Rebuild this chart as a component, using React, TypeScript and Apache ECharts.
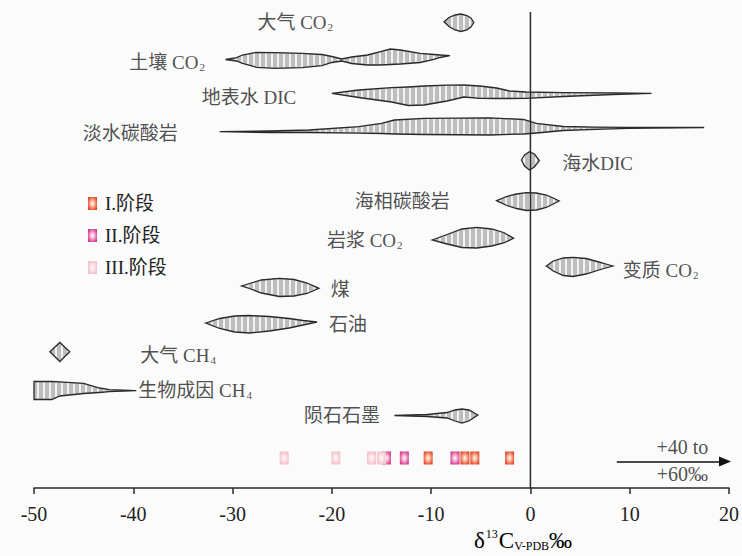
import React, { useEffect, useRef } from "react";
import * as echarts from "echarts";

const FONT = '"Liberation Serif", "Noto Sans CJK SC", serif';

// Each shape: [δ13C (‰), upper edge (row units), lower edge (row units)]
const atmCO2 = [[-8.7, 21.7, 21.7], [-8.2, 17.5, 26.5], [-7.6, 15, 30], [-7.0, 14, 31.5], [-6.4, 15.5, 30], [-6.0, 18, 27], [-5.7, 22.5, 22.5]];
const soilCO2 = [[-30.7, 59.5, 59.5], [-29.6, 57.7, 61], [-29.0, 55, 63.3], [-27.6, 52.3, 67.3], [-25.7, 52.7, 68.3], [-23.0, 53.3, 67.7], [-21.0, 54.5, 65.7], [-20.0, 56.5, 62.5], [-19.0, 59, 61], [-18.0, 57, 63.5], [-16.4, 55, 65], [-15.1, 51.7, 65], [-14.1, 49, 64.5], [-13.1, 50, 64], [-11.1, 53.3, 62.5], [-9.7, 54.5, 59.3], [-9.1, 55, 57.5], [-8.1, 55.7, 55.7]];
const surfDIC = [[-20.0, 93.3, 93.3], [-17.3, 90, 97.5], [-14.0, 87.7, 102], [-12.3, 87, 105.5], [-10.7, 86, 105], [-8.4, 85.2, 101], [-6.7, 85, 97], [-5.1, 86, 98.3], [-3.4, 88, 98.5], [-2.1, 91, 98.5], [-0.4, 92, 98.3], [3.3, 92.7, 96.5], [8.3, 92.8, 94.5], [12.2, 93.3, 93.3]];
const freshCarb = [[-31.3, 131.7, 131.7], [-26.3, 131, 132.5], [-22.3, 130, 132.5], [-17.3, 126.7, 133.2], [-15.0, 123.3, 133.5], [-13.7, 120, 134], [-10.7, 118.3, 134.5], [-4.1, 117.8, 135], [-0.7, 119.5, 134], [0.6, 123.3, 133], [3.3, 126.5, 130.5], [6.6, 127.2, 129.3], [9.9, 127.3, 128.3], [17.5, 127.5, 127.5]];
const seaDIC = [[-0.9, 160, 160], [-0.6, 155, 166], [-0.1, 151.7, 170], [0.4, 154, 167], [0.9, 160.5, 160.5]];
const marineCarb = [[-3.4, 200.7, 200.7], [-2.4, 196.5, 205.5], [-1.4, 194, 208.5], [-0.4, 192.7, 210.5], [0.6, 193, 210], [1.6, 195, 207.5], [2.3, 198, 204], [2.9, 201, 201]];
const magmaCO2 = [[-9.9, 240, 240], [-8.4, 234.5, 244], [-6.9, 229, 247.5], [-5.4, 227.3, 248], [-3.9, 229, 246], [-2.7, 232.5, 243], [-1.7, 238.3, 238.3]];
const metaCO2 = [[1.6, 266, 266], [2.3, 261, 271], [3.3, 258, 275.5], [4.3, 257.3, 276.5], [5.6, 258.5, 274], [6.9, 262, 270], [7.6, 264, 268], [8.3, 266, 266]];
const coal = [[-29.1, 286, 286], [-28.3, 283.5, 288.5], [-27.1, 280, 293], [-25.3, 278.3, 296.5], [-23.8, 279.5, 296], [-22.5, 283, 293.5], [-21.3, 288.3, 288.3]];
const oil = [[-32.7, 323, 323], [-31.3, 318.5, 328.5], [-29.8, 316, 332], [-28.3, 315.5, 333], [-26.3, 316.5, 331], [-24.3, 318.5, 328], [-22.9, 320.5, 325], [-21.5, 322, 322]];
const atmCH4 = [[-48.4, 351.7, 351.7], [-47.4, 342.5, 361.5], [-46.4, 351.7, 351.7]];
const bioCH4 = [[-50.0, 381.5, 399.5], [-48.2, 381.5, 399.5], [-47.4, 381.8, 396], [-45.0, 383.3, 393.5], [-43.4, 388, 392.5], [-42.4, 389.7, 391.7], [-39.7, 390.7, 390.7]];
const graphite = [[-13.7, 415.5, 415.5], [-10.4, 414.5, 416.5], [-8.4, 412.5, 418], [-7.6, 410, 421], [-6.9, 409, 423], [-6.2, 410, 421], [-5.3, 415, 415]];

const shapes = [atmCO2, soilCO2, surfDIC, freshCarb, seaDIC, marineCarb, magmaCO2, metaCO2, coal, oil, atmCH4, bioCH4, graphite];

// Labels: [text, δ13C of left edge, row]
const shapeLabels: [string, number, number][] = [
  ["{a|大气 CO}{s|2}", -27.5, 22],
  ["{a|土壤 CO}{s|2}", -40.4, 62],
  ["{a|地表水 DIC}", -33.1, 97],
  ["{a|淡水碳酸岩}", -45.1, 133],
  ["{a|海水DIC}", 3.2, 163],
  ["{a|海相碳酸岩}", -17.7, 201],
  ["{a|岩浆 CO}{s|2}", -20.5, 240],
  ["{a|变质 CO}{s|2}", 9.3, 270],
  ["{a|煤}", -20.1, 289],
  ["{a|石油}", -20.3, 324],
  ["{a|大气 CH}{s|4}", -39.3, 355],
  ["{a|生物成因 CH}{s|4}", -39.5, 390],
  ["{a|陨石石墨}", -22.8, 415],
];

// Stage sample values (δ13C)
const stageRow = 458;
const stageI = [-10.3, -6.6, -5.6, -2.1];
const stageII = [-14.5, -12.7, -7.6];
const stageIII = [-24.8, -19.6, -16.0, -15.0];

const arrowFrom = 8.7;
const arrowTo = 19.6;
const arrowRow = 461.5;
const arrowTexts: [string, number, number][] = [
  ["+40 to", 15.3, 447],
  ["+60‰", 15.3, 474],
];
const zeroLine = [[0, 12], [0, 488]];

const STRIPE = 6;

function interp(pts: number[][], x: number) {
  for (let i = 0; i < pts.length - 1; i++) {
    const a = pts[i], b = pts[i + 1];
    if (x >= a[0] && x <= b[0]) {
      if (b[0] === a[0]) return a[1];
      const t = (x - a[0]) / (b[0] - a[0]);
      return a[1] + t * (b[1] - a[1]);
    }
  }
  return pts[pts.length - 1][1];
}

function makeRender(pts: number[][]) {
  return (params: any, api: any) => {
    if (params.dataIndex !== 0) return null;
    const top = pts.map((p) => api.coord([p[0], p[1]]));
    const bot = pts.map((p) => api.coord([p[0], p[2]]));
    const poly = top.concat(bot.slice().reverse());
    const children: any[] = [
      { type: "polygon", shape: { points: poly }, style: { fill: "#bdbdbd", stroke: "none" } },
    ];
    const x0 = top[0][0], x1 = top[top.length - 1][0];
    for (let x = Math.ceil(x0 / STRIPE) * STRIPE + 2; x < x1; x += STRIPE) {
      const yt = interp(top, x), yb = interp(bot, x);
      if (yb - yt > 2.5) {
        children.push({
          type: "line",
          shape: { x1: x, y1: yt + 0.8, x2: x, y2: yb - 0.8 },
          style: { stroke: "#ffffff", lineWidth: 1.6 },
        });
      }
    }
    children.push({
      type: "polygon",
      shape: { points: poly },
      style: { fill: "none", stroke: "#2a2a2a", lineWidth: 1.3 },
    });
    return { type: "group", children };
  };
}

function stageColor(dark: string, light: string) {
  return {
    type: "radial",
    x: 0.5,
    y: 0.5,
    r: 0.75,
    colorStops: [
      { offset: 0, color: "#ffffff" },
      { offset: 0.3, color: light },
      { offset: 0.75, color: dark },
      { offset: 1, color: dark },
    ],
  };
}

export default function App() {
  const ref = useRef<HTMLDivElement>(null);
  useEffect(() => {
    if (!ref.current) return;
    const chart = echarts.init(ref.current, undefined, { renderer: "svg" });
    const shapeSeries = shapes.map((pts) => ({
      type: "custom",
      renderItem: makeRender(pts),
      data: pts,
      encode: { x: 0, y: 1 },
      silent: true,
      clip: false,
      z: 3,
    }));
    const stageSeries = (name: string, vals: number[], dark: string, light: string, z: number) => ({
      name,
      type: "scatter",
      symbol: "rect",
      symbolSize: [9, 13],
      data: vals.map((v) => [v, stageRow]),
      itemStyle: { color: stageColor(dark, light), opacity: 1 },
      silent: true,
      z,
    });
    const option: any = {
      animation: false,
      backgroundColor: "#fbfbfb",
      grid: { left: 34, right: 6, top: 0, bottom: 68 },
      xAxis: {
        type: "value",
        position: "bottom",
        min: -50,
        max: 20,
        interval: 10,
        axisLine: { show: true, onZero: false, lineStyle: { color: "#2a2a2a", width: 1.5 } },
        axisTick: { show: true, length: 6, lineStyle: { color: "#2a2a2a", width: 1.5 } },
        axisLabel: { fontFamily: FONT, fontSize: 20, color: "#222", margin: 16 },
        splitLine: { show: false },
      },
      yAxis: { type: "value", min: 0, max: 488, inverse: true, show: false },
      legend: {
        orient: "vertical",
        left: 83,
        top: 189,
        itemWidth: 9,
        itemHeight: 13,
        itemGap: 13,
        icon: "rect",
        data: ["I.阶段", "II.阶段", "III.阶段"],
        textStyle: { fontFamily: FONT, fontSize: 19, color: "#222", padding: [0, 0, 0, 3] },
        selectedMode: false,
      },
      graphic: [
        {
          type: "text",
          left: 474,
          top: 528,
          style: {
            text: "{b|δ}{sup|13}{b|C}{sub|V-PDB}{b|‰}",
            rich: {
              b: { fontFamily: FONT, fontSize: 23, color: "#222" },
              sup: { fontFamily: FONT, fontSize: 12, color: "#222", padding: [0, 1, 12, 1] },
              sub: { fontFamily: FONT, fontSize: 12, color: "#222", padding: [12, 0, 0, 0] },
            },
          },
        },
      ],
      series: [
        ...shapeSeries,
        {
          type: "line",
          data: zeroLine,
          symbol: "none",
          lineStyle: { color: "#2a2a2a", width: 1.5 },
          silent: true,
          z: 4,
          markLine: {
            silent: true,
            symbol: ["none", "triangle"],
            symbolSize: [10, 12],
            label: { show: false },
            lineStyle: { color: "#111", width: 1.5, type: "solid" },
            data: [[{ coord: [arrowFrom, arrowRow] }, { coord: [arrowTo, arrowRow] }]],
          },
        },
        stageSeries("II.阶段", stageII, "#d8388c", "#f3b3d3", 5),
        stageSeries("III.阶段", stageIII, "#f4c0ca", "#fbe1e5", 6),
        stageSeries("I.阶段", stageI, "#e5472c", "#f8b79a", 7),
        {
          type: "scatter",
          symbolSize: 0,
          silent: true,
          z: 8,
          data: shapeLabels.map((l) => ({ value: [l[1], l[2]], label: { formatter: l[0] } })),
          label: {
            show: true,
            position: "right",
            distance: 0,
            rich: {
              a: { fontFamily: FONT, fontSize: 19, color: "#222" },
              s: { fontFamily: FONT, fontSize: 11, color: "#222", padding: [10, 0, 0, 1] },
            },
          },
        },
        {
          type: "scatter",
          symbolSize: 0,
          silent: true,
          z: 8,
          data: arrowTexts.map((l) => ({ value: [l[1], l[2]], label: { formatter: l[0] } })),
          label: {
            show: true,
            position: "inside",
            fontFamily: FONT,
            fontSize: 20,
            color: "#222",
          },
        },
      ],
    };
    chart.setOption(option);
    return () => chart.dispose();
  }, []);
  return (
    <div
      ref={ref}
      style={{ position: "fixed", left: 0, top: 0, width: 742, height: 556 }}
    />
  );
}
